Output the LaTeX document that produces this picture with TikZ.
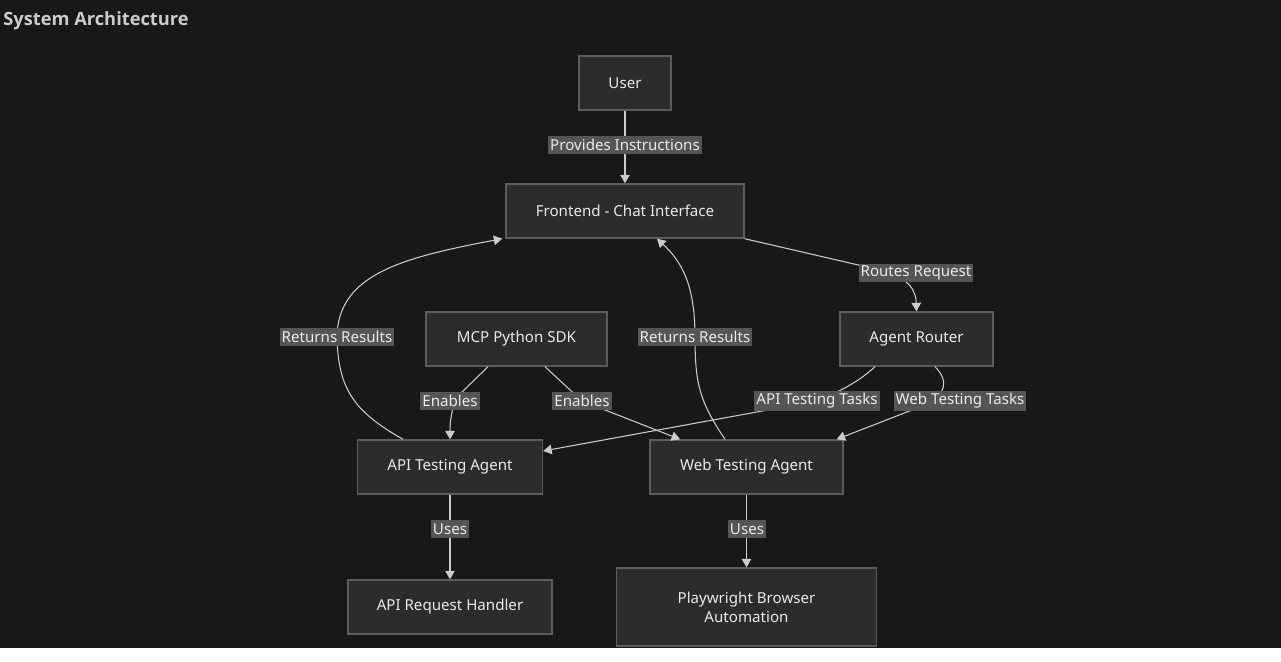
\documentclass[tikz,border=0pt]{standalone}
\usepackage{fontspec}
\setmainfont{Noto Sans}
\newfontfamily\headfont{Open Sans}
\usepackage{xcolor}
\usetikzlibrary{arrows.meta}

\definecolor{bgc}{HTML}{181818}
\definecolor{boxc}{HTML}{2C2C2C}
\definecolor{rimc}{HTML}{5C5C5C}
\definecolor{lblc}{HTML}{555555}
\definecolor{linec}{HTML}{CCCCCC}
\definecolor{txtc}{HTML}{EAEAEA}
\definecolor{headc}{HTML}{CCCCCC}

\begin{document}
\begin{tikzpicture}[x=0.02cm, y=-0.02cm]
  \tikzstyle{box}=[draw=rimc, fill=boxc, line width=0.8pt, text=txtc, minimum height=1.08cm,
    font=\fontsize{8.6}{11}\selectfont, align=center]
  \tikzstyle{edge}=[draw=linec, line width=0.6pt, -{Triangle[length=0.17cm, width=0.19cm]}]
  \tikzstyle{edge label}=[fill=lblc, text=txtc, inner sep=0.04cm, minimum height=0.36cm,
    font=\fontsize{8.6}{11}\selectfont]

  \useasboundingbox (0,0) rectangle (1281,662);
  \fill[white] (0,0) rectangle (1281,662);
  \fill[bgc] (0,0) rectangle (1281,648);

  \node[anchor=west, inner sep=0, text=headc, font=\headfont\bfseries\fontsize{10.4}{12}\selectfont] (title) at (3,21) {System Architecture};

  % boxes
  \node[box, minimum width=1.84cm] (user) at (625,83) {User};
  \node[box, minimum width=4.76cm] (fe) at (625,211) {Frontend - Chat Interface};
  \node[box, minimum width=3.06cm] (ar) at (916.5,339) {Agent Router};
  \node[box, minimum width=3.62cm] (mcp) at (516.5,339) {MCP Python SDK};
  \node[box, minimum width=3.70cm] (api) at (450,467) {API Testing Agent};
  \node[box, minimum width=3.86cm] (web) at (746.5,467) {Web Testing Agent};
  \node[box, minimum width=4.08cm] (arh) at (450,607) {API Request Handler};
  \node[box, minimum width=5.20cm, minimum height=1.56cm] (pw) at (746.5,607) {Playwright Browser\\Automation};

  % label spots
  \coordinate (l1) at (625,145);
  \coordinate (l2) at (916,273);
  \coordinate (l3) at (337,337);
  \coordinate (l4) at (695,337);
  \coordinate (l5) at (450,401);
  \coordinate (l6) at (582,401);
  \coordinate (l7) at (817,401);
  \coordinate (l8) at (960,401);
  \coordinate (l9) at (450,529);
  \coordinate (l10) at (747,529);

  % connectors
  \draw[edge] (user) -- (fe);
  \draw[edge] (fe.south east) -- (880,270) .. controls (908,277) and (916,290) .. (ar.north);
  \draw[edge] ([xshift=-0.83cm]ar.south) .. controls (855,385) and (835,393) .. (l7) -- ([yshift=0.32cm]api.east);
  \draw[edge] ([xshift=0.37cm]ar.south) .. controls (950,382) and (945,395) .. (925,405) -- ([xshift=-0.14cm]web.north east);
  \draw[edge] ([xshift=-0.57cm]mcp.south) -- (462,392) .. controls (452,402) and (450,420) .. (api.north);
  \draw[edge] ([xshift=0.57cm]mcp.south) -- (l6) -- ([xshift=-1.33cm]web.north);
  \draw[edge] ([xshift=-0.94cm]api.north) .. controls (355,412) and (338,390) .. (l3)
    .. controls (338,275) and (400,258) .. ([xshift=-0.06cm]fe.south west);
  \draw[edge] ([xshift=-0.43cm]web.north) .. controls (700,402) and (695,385) .. (l4)
    .. controls (695,285) and (682,262) .. ([xshift=0.64cm]fe.south);
  \draw[edge] (api) -- (arh);
  \draw[edge] (web) -- (web |- pw.north);

  % labels
  \node[edge label] (t1) at (l1) {Provides Instructions};
  \node[edge label] (t2) at (l2) {Routes Request};
  \node[edge label] (t3) at (l3) {Returns Results};
  \node[edge label] (t4) at (l4) {Returns Results};
  \node[edge label] (t5) at (l5) {Enables};
  \node[edge label] (t6) at (l6) {Enables};
  \node[edge label] (t7) at (l7) {API Testing Tasks};
  \node[edge label] (t8) at (l8) {Web Testing Tasks};
  \node[edge label] (t9) at (l9) {Uses};
  \node[edge label] (t10) at (l10) {Uses};
\end{tikzpicture}
\end{document}
